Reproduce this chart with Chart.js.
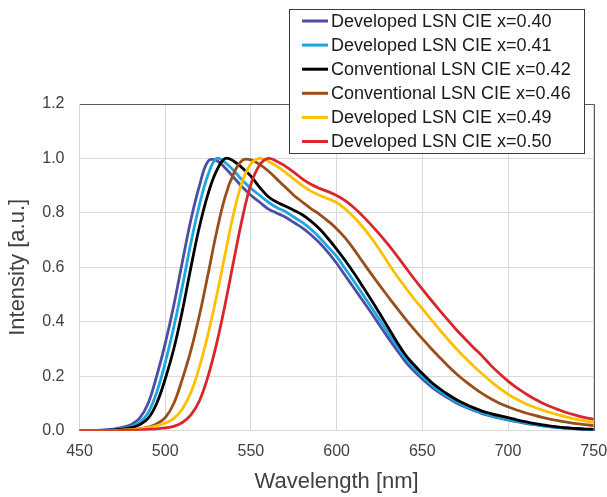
<!DOCTYPE html>
<html>
<head>
<meta charset="utf-8">
<script src="https://cdn.jsdelivr.net/npm/chart.js@4.4.1/dist/chart.umd.min.js"></script>
<style>
  html, body { margin: 0; padding: 0; background: #fff; }
  canvas { display: block; }
</style>
</head>
<body>
<canvas id="spectra" width="607" height="497"></canvas>
<script>
// emission spectra, normalised, sampled every 5 nm
const wavelengths = [];
for (let w = 450; w <= 750; w += 5) wavelengths.push(w);

const seriesLabels = [
  "Developed LSN CIE x=0.40",
  "Developed LSN CIE x=0.41",
  "Conventional LSN CIE x=0.42",
  "Conventional LSN CIE x=0.46",
  "Developed LSN CIE x=0.49",
  "Developed LSN CIE x=0.50"
];
const seriesColors = ["#4a4fa3", "#1fa6e0", "#000000", "#9a4e1c", "#ffc000", "#d9262b"];

const dev040 = [0, 0, 0.001, 0.003, 0.006, 0.012, 0.022, 0.045, 0.1, 0.2,
  0.32, 0.46, 0.62, 0.775, 0.9, 0.99, 0.992, 0.965, 0.93, 0.895,
  0.865, 0.84, 0.815, 0.8, 0.785, 0.765, 0.745, 0.72, 0.69, 0.655,
  0.615, 0.57, 0.525, 0.48, 0.435, 0.388, 0.342, 0.298, 0.255, 0.22,
  0.19, 0.163, 0.14, 0.12, 0.102, 0.087, 0.074, 0.063, 0.054, 0.046,
  0.04, 0.033, 0.027, 0.022, 0.018, 0.014, 0.011, 0.009, 0.007, 0.005,
  0.004];
const dev041 = [0, 0, 0.001, 0.002, 0.004, 0.008, 0.015, 0.03, 0.065, 0.14,
  0.25, 0.38, 0.53, 0.69, 0.83, 0.94, 1.0, 0.985, 0.955, 0.92,
  0.89, 0.865, 0.84, 0.82, 0.805, 0.785, 0.765, 0.74, 0.71, 0.675,
  0.64, 0.595, 0.55, 0.503, 0.456, 0.408, 0.36, 0.313, 0.268, 0.232,
  0.2, 0.171, 0.146, 0.125, 0.106, 0.09, 0.077, 0.066, 0.056, 0.048,
  0.042, 0.035, 0.029, 0.023, 0.019, 0.015, 0.012, 0.009, 0.007, 0.005,
  0.004];
const conv042 = [0, 0, 0, 0.001, 0.003, 0.006, 0.011, 0.022, 0.045, 0.1,
  0.19, 0.3, 0.44, 0.6, 0.75, 0.87, 0.955, 1.0, 0.99, 0.965,
  0.935, 0.895, 0.86, 0.84, 0.825, 0.81, 0.793, 0.77, 0.742, 0.706,
  0.667, 0.625, 0.58, 0.532, 0.483, 0.432, 0.38, 0.328, 0.28, 0.243,
  0.21, 0.18, 0.155, 0.133, 0.114, 0.098, 0.084, 0.072, 0.063, 0.055,
  0.048, 0.04, 0.033, 0.027, 0.021, 0.017, 0.013, 0.01, 0.008, 0.006,
  0.005];
const conv046 = [0, 0, 0, 0, 0.001, 0.002, 0.004, 0.007, 0.013, 0.025,
  0.048, 0.1, 0.19, 0.295, 0.425, 0.575, 0.73, 0.86, 0.945, 0.993,
  0.995, 0.978, 0.955, 0.925, 0.895, 0.865, 0.84, 0.816, 0.795, 0.77,
  0.742, 0.708, 0.667, 0.622, 0.578, 0.535, 0.493, 0.452, 0.412, 0.374,
  0.338, 0.303, 0.27, 0.238, 0.208, 0.182, 0.158, 0.136, 0.117, 0.101,
  0.088, 0.076, 0.066, 0.057, 0.049, 0.042, 0.036, 0.031, 0.026, 0.022,
  0.019];
const dev049 = [0, 0, 0, 0, 0.001, 0.002, 0.004, 0.007, 0.011, 0.018,
  0.028, 0.045, 0.08, 0.14, 0.235, 0.355, 0.495, 0.65, 0.8, 0.915,
  0.98, 1.0, 0.99, 0.972, 0.95, 0.925, 0.9, 0.88, 0.865, 0.852,
  0.838, 0.815, 0.785, 0.75, 0.71, 0.665, 0.617, 0.57, 0.527, 0.486,
  0.448, 0.41, 0.372, 0.335, 0.3, 0.268, 0.237, 0.208, 0.181, 0.156,
  0.134, 0.116, 0.1, 0.087, 0.076, 0.066, 0.057, 0.049, 0.042, 0.036,
  0.031];
const dev050 = [0, 0, 0, 0, 0, 0.001, 0.002, 0.003, 0.005, 0.007,
  0.01, 0.016, 0.03, 0.058, 0.11, 0.2, 0.32, 0.465, 0.625, 0.78,
  0.905, 0.975, 1.0, 0.99, 0.972, 0.95, 0.925, 0.905, 0.89, 0.878,
  0.864, 0.845, 0.82, 0.79, 0.757, 0.722, 0.684, 0.644, 0.602, 0.56,
  0.52, 0.481, 0.443, 0.406, 0.37, 0.337, 0.305, 0.274, 0.24, 0.21,
  0.182, 0.158, 0.137, 0.118, 0.102, 0.088, 0.076, 0.065, 0.056, 0.048,
  0.042];

const seriesValues = [dev040, dev041, conv042, conv046, dev049, dev050];

const FONT = "'Liberation Sans', Arial, sans-serif";
const TEXT = "#404040";
const GRID = "#d9d9d9";

// dark frame on top/right of the plot, then the boxed legend over it
const frameAndLegend = {
  id: "frameAndLegend",
  afterDraw(chart) {
    const { ctx, chartArea: a } = chart;
    ctx.save();
    ctx.strokeStyle = "#595959";
    ctx.lineWidth = 1;
    ctx.beginPath();
    ctx.moveTo(Math.round(a.left), Math.round(a.top) + 0.5);
    ctx.lineTo(Math.round(a.right) + 0.5, Math.round(a.top) + 0.5);
    ctx.lineTo(Math.round(a.right) + 0.5, Math.round(a.bottom));
    ctx.stroke();

    const bx = 289, by = 9, bw = 295, bh = 144;
    ctx.fillStyle = "#fff";
    ctx.fillRect(bx, by, bw, bh);
    ctx.strokeStyle = "#3a3a3a";
    ctx.strokeRect(bx + 0.5, by + 0.5, bw, bh);

    ctx.font = "18px " + FONT;
    ctx.textBaseline = "middle";
    ctx.textAlign = "left";
    seriesLabels.forEach((label, i) => {
      const y = 21 + i * 24.1;
      ctx.strokeStyle = seriesColors[i];
      ctx.lineWidth = 3;
      ctx.beginPath();
      ctx.moveTo(302, y);
      ctx.lineTo(328, y);
      ctx.stroke();
      ctx.fillStyle = "#1a1a1a";
      ctx.fillText(label, 331, y + 1);
    });
    ctx.restore();
  }
};

// dataset 0 is painted last, so reverse to keep x=0.50 on top
const datasets = seriesLabels.map((label, i) => ({
  label: label,
  data: wavelengths.map((w, j) => ({ x: w, y: seriesValues[i][j] })),
  borderColor: seriesColors[i],
  backgroundColor: seriesColors[i],
  borderWidth: 2.8,
  pointRadius: 0,
  tension: 0.4,
  fill: false
})).reverse();

new Chart(document.getElementById("spectra"), {
  type: "line",
  data: { datasets: datasets },
  options: {
    responsive: false,
    animation: false,
    layout: { padding: { top: 104, right: 0, left: 0, bottom: 0 } },
    plugins: { legend: { display: false }, tooltip: { enabled: false } },
    scales: {
      x: {
        type: "linear",
        min: 450,
        max: 750,
        grid: { color: GRID, drawTicks: false },
        border: { color: GRID },
        ticks: { stepSize: 50, padding: 11, color: TEXT, font: { family: FONT, size: 16 } },
        title: { display: true, text: "Wavelength [nm]", color: TEXT, padding: { top: 0, bottom: 2 }, font: { family: FONT, size: 22 } },
        afterFit(scale) {
          scale.height = 66.3;
          scale.paddingRight = 13.3; // let "750" sit at the edge
        }
      },
      y: {
        min: 0,
        max: 1.2,
        grid: { color: GRID, drawTicks: false },
        border: { color: GRID },
        ticks: { stepSize: 0.2, padding: 15, color: TEXT, font: { family: FONT, size: 16 }, callback: v => v.toFixed(1) },
        title: { display: true, text: "Intensity [a.u.]", color: TEXT, padding: { top: 5, bottom: 0 }, font: { family: FONT, size: 22 } },
        afterFit(scale) { scale.width = 79.5; }
      }
    }
  },
  plugins: [frameAndLegend]
});
</script>
</body>
</html>
